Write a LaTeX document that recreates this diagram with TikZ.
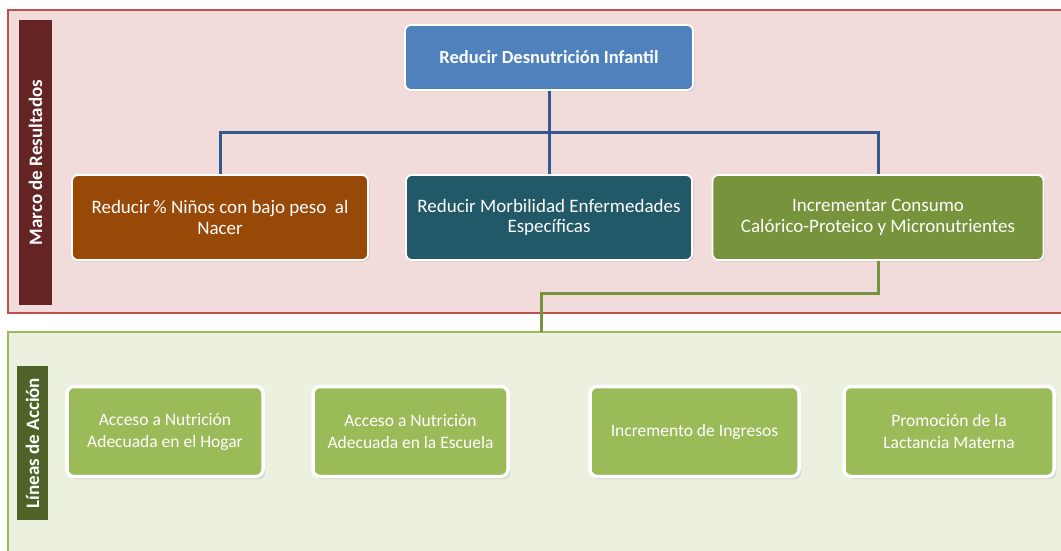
\documentclass[tikz,border=0pt]{standalone}
\usepackage{fontspec}
\setmainfont{Carlito}
\usetikzlibrary{shadows}
\definecolor{pinkfill}{HTML}{F2DCDB}
\definecolor{pinkline}{HTML}{C0504D}
\definecolor{labelred}{HTML}{632423}
\definecolor{topblue}{HTML}{4F81BD}
\definecolor{lineblue}{HTML}{35598F}
\definecolor{brownbox}{HTML}{984807}
\definecolor{tealbox}{HTML}{215968}
\definecolor{olivebox}{HTML}{77933C}
\definecolor{greenfill}{HTML}{EBF1DE}
\definecolor{greenline}{HTML}{9BBB59}
\definecolor{labelgreen}{HTML}{4F6228}
\definecolor{boxgreen}{HTML}{9BBB59}
\begin{document}
\begin{tikzpicture}[x=1pt,y=-1pt,
  resbox/.style={rectangle, rounded corners=6pt, draw=white, line width=1.8pt,
    text=white, align=center, font=\fontsize{19}{20.5}\selectfont,
    minimum height=85pt, inner sep=2pt,
    drop shadow={opacity=0.25, shadow xshift=1.5pt, shadow yshift=-1.5pt}},
  actbox/.style={rectangle, rounded corners=7pt, draw=white, line width=3.5pt, fill=boxgreen,
    text=white, align=center, font=\fontsize{17.5}{22}\selectfont,
    minimum height=90pt, inner sep=2pt,
    drop shadow={opacity=0.3, shadow xshift=2pt, shadow yshift=-2.5pt}},
  sidelabel/.style={rectangle, rotate=90, text=white, font=\bfseries\fontsize{19}{21}\selectfont,
    inner sep=0pt},
  bluecon/.style={draw=lineblue, line width=3pt},
  greencon/.style={draw=olivebox, line width=3pt}]
\useasboundingbox (0,0) rectangle (1061,551);
\clip (0,0) rectangle (1061,551);
% panels
\draw[fill=pinkfill, draw=pinkline, line width=2.2pt] (8,10) rectangle (1075,313);
\draw[fill=greenfill, draw=greenline, line width=2.2pt] (8,332) rectangle (1075,570);
% side labels
\node[sidelabel, fill=labelred, minimum width=285pt, minimum height=33pt] (lab1) at (35.5,162.5) {Marco de Resultados};
\node[sidelabel, fill=labelgreen, minimum width=154pt, minimum height=31pt] (lab2) at (32.5,443) {Líneas de Acción};
% top node
\node[resbox, fill=topblue, minimum width=288pt, minimum height=65pt, font=\bfseries\fontsize{18.5}{20}\selectfont] (top) at (549,57.5) {Reducir Desnutrición Infantil};
% results
\node[resbox, fill=brownbox, minimum width=296pt] (c1) at (220,217.5) {Reducir\,\% Niños con bajo peso\ \ al\\Nacer};
\node[resbox, fill=tealbox, minimum width=286pt] (c2) at (549,217.5) {Reducir Morbilidad Enfermedades\\Específicas};
\node[resbox, fill=olivebox, minimum width=331pt] (c3) at (878,217.5) {Incrementar Consumo\\Calórico-Proteico y Micronutrientes};
% action lines
\node[actbox, minimum width=196pt] (a1) at (165,431.5) {Acceso a Nutrición\\Adecuada en el Hogar};
\node[actbox, minimum width=195pt] (a2) at (410.5,431.5) {Acceso a Nutrición\\Adecuada en la Escuela};
\node[actbox, minimum width=209pt] (a3) at (694.5,431.5) {Incremento de Ingresos};
\node[actbox, minimum width=210pt] (a4) at (949,431.5) {Promoción de la\\Lactancia Materna};
% connectors
\coordinate (j) at (549,132);
\draw[bluecon] (top.south) -- (j);
\draw[bluecon] (j) -- (c2.north);
\draw[bluecon] (c1.north) |- (j) -| (c3.north);
\coordinate (gb) at (541,293);
\coordinate (ge) at (541,332);
\draw[greencon] (c3.south) |- (gb) -- (ge);
\end{tikzpicture}
\end{document}
